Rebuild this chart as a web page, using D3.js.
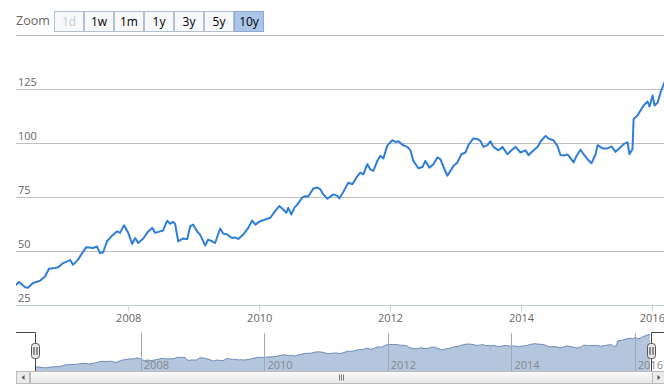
<!DOCTYPE html>
<html><head><meta charset="utf-8">
<script src="https://cdn.jsdelivr.net/npm/d3@7"></script>
<style>body{margin:0;background:#fff;overflow:hidden}svg{display:block}</style>
</head><body><svg id="c" width="664" height="384"></svg>
<script>
const dates=["2006-04-15","2006-05-02","2006-06-05","2006-06-21","2006-07-19","2006-08-27","2006-09-24","2006-10-16","2006-11-19","2006-12-06",
"2007-01-03","2007-02-11","2007-02-27","2007-03-27","2007-04-19","2007-05-11","2007-06-19","2007-07-11","2007-07-28","2007-08-14","2007-09-05","2007-10-03","2007-10-31","2007-11-17","2007-12-09",
"2008-01-01","2008-01-23","2008-02-09","2008-02-26","2008-03-25","2008-04-21","2008-05-14","2008-05-31","2008-06-27","2008-07-14","2008-08-05","2008-08-22","2008-09-08","2008-09-19","2008-10-06","2008-11-03","2008-11-25","2008-12-12","2008-12-29",
"2009-01-20","2009-02-05","2009-03-06","2009-03-22","2009-04-14","2009-04-30","2009-05-28","2009-06-14","2009-07-07","2009-08-03","2009-08-20","2009-09-06","2009-10-04","2009-11-01","2009-11-23","2009-12-10",
"2010-01-07","2010-02-04","2010-03-04","2010-03-31","2010-04-23","2010-05-15","2010-06-01","2010-06-12","2010-06-29","2010-07-16","2010-08-01","2010-08-29","2010-09-15","2010-10-02","2010-10-30","2010-11-21","2010-12-08","2010-12-25",
"2011-01-16","2011-02-02","2011-02-19","2011-03-13","2011-03-24","2011-04-15","2011-05-13","2011-06-05","2011-07-03","2011-07-19","2011-08-05","2011-08-27","2011-09-13","2011-09-30","2011-10-22","2011-11-08","2011-11-25","2011-12-17",
"2012-01-14","2012-01-31","2012-02-17","2012-03-15","2012-04-07","2012-04-24","2012-05-10","2012-06-07","2012-06-30","2012-07-16","2012-08-08","2012-08-30","2012-09-21","2012-10-08","2012-10-25","2012-11-16","2012-12-03","2012-12-20",
"2013-01-11","2013-02-02","2013-02-25","2013-03-13","2013-04-10","2013-05-03","2013-05-19","2013-06-05","2013-06-28","2013-07-14","2013-07-31","2013-08-28","2013-09-19","2013-10-17","2013-11-09","2013-12-01","2013-12-29",
"2014-01-26","2014-02-12","2014-03-12","2014-04-03","2014-04-20","2014-05-18","2014-06-03","2014-07-01","2014-07-24","2014-08-09","2014-08-26","2014-09-17","2014-09-29","2014-10-21","2014-11-07","2014-11-29","2014-12-16",
"2015-01-07","2015-01-29","2015-02-21","2015-03-04","2015-04-01","2015-04-29","2015-05-21","2015-06-12","2015-07-10","2015-07-27","2015-08-18","2015-08-29","2015-09-15","2015-09-21","2015-10-13","2015-10-24","2015-11-16","2015-12-08","2015-12-19",
"2016-01-05","2016-01-16","2016-02-02","2016-02-19","2016-03-12","2016-03-31"];
const values=[34.3,35.6,33.2,33.0,35.2,36.2,38.2,41.8,42.1,42.5,
44.4,45.8,43.6,46.0,49.0,51.7,51.4,52.1,49.0,49.3,54.5,57.1,59.1,58.4,61.9,
58.5,53.3,56.0,53.7,55.8,59.0,60.7,58.4,59.1,59.5,64.0,62.6,63.5,62.5,54.5,55.8,55.5,61.5,62.2,
59.0,57.6,52.5,55.3,54.5,53.7,60.4,58.1,57.6,56.0,56.3,55.6,57.6,60.7,64.1,62.2,
63.8,64.6,65.4,68.5,70.8,69.2,67.7,70.0,66.9,70.0,71.5,74.7,75.4,75.2,78.9,79.4,78.5,76.2,
74.2,75.2,76.2,75.5,74.3,77.3,81.6,80.9,84.7,86.3,85.5,90.2,87.8,87.1,91.7,94.1,92.8,98.9,
101.3,100.5,100.8,98.9,98.2,96.6,91.7,88.3,88.9,91.7,88.6,90.2,93.3,92.5,89.0,84.9,87.1,89.4,
91.0,94.8,95.6,99.0,102.1,101.8,101.0,98.2,99.0,100.8,98.2,96.6,98.2,94.8,96.6,98.2,95.6,
96.6,94.4,96.6,98.2,100.7,103.3,102.1,101.3,98.5,94.4,94.2,94.7,93.6,91.0,94.1,96.9,94.8,
92.5,90.6,94.8,99.0,97.5,97.5,98.4,95.9,98.0,99.5,100.3,94.8,97.2,111.1,112.7,114.3,117.4,119.2,116.9,
122.0,117.4,118.6,123.6,128.2,130.0];
const yGridValues=[25,50,75,100,125,150];
const yLabelValues=[25,50,75,100,125];
const xTickYears=[2008,2010,2012,2014,2016];
const zoomButtons=["1d","1w","1m","1y","3y","5y","10y"];
const selectedButton="10y";
const disabledButton="1d";

const parse=d3.timeParse("%Y-%m-%d");
const data=dates.map((d,i)=>({date:parse(d),value:values[i]}));
const FONT='"Open Sans", "Liberation Sans", sans-serif';
const svg=d3.select("#c").style("font-family",FONT);

// scales
const x=d3.scaleTime().domain(d3.extent(data,d=>d.date)).range([16,668]);
const y=d3.scaleLinear().domain([25,150]).range([305,35]);
const xn=d3.scaleTime().domain(d3.extent(data,d=>d.date)).range([35,650]);
const yn=d3.scaleLinear().domain([25,130]).range([370.5,334.5]);
const tickDates=xTickYears.map(yr=>new Date(yr,0,1));

// zoom selector
svg.append("text").attr("x",16).attr("y",25).attr("fill","#666").style("font-size","12.5px").text("Zoom");
const bg=svg.append("g").selectAll("g").data(zoomButtons).join("g")
  .attr("transform",(d,i)=>`translate(${54+i*30+0.5},11.5)`);
bg.append("rect").attr("width",29).attr("height",20)
  .attr("fill",d=>d===selectedButton?"#abc5e8":"#f6f8fb")
  .attr("stroke",d=>d===selectedButton?"#8fa9cc":"#b4c0cf");
bg.append("text").attr("x",14.5).attr("y",14.5).attr("text-anchor","middle")
  .style("font-size","12px")
  .attr("fill",d=>d===disabledButton?"#cccccc":"#000").text(d=>d);

// gridlines
svg.append("g").selectAll("line").data(yGridValues.filter(v=>v!==25)).join("line")
  .attr("x1",16).attr("x2",664).attr("y1",d=>Math.round(y(d))+0.5).attr("y2",d=>Math.round(y(d))+0.5)
  .attr("stroke","#c0c0c0").attr("stroke-width",1);
// axis line
svg.append("line").attr("x1",16).attr("x2",664).attr("y1",Math.round(y(25))+0.5).attr("y2",Math.round(y(25))+0.5)
  .attr("stroke","#c0d0e0");
// y labels
svg.append("g").selectAll("text").data(yLabelValues).join("text")
  .attr("x",18).attr("y",d=>y(d)-3).attr("fill","#666").style("font-size","11px").text(d=>d);

// x axis
const xAxis=d3.axisBottom(x).tickValues(tickDates).tickFormat(d3.timeFormat("%Y")).tickSize(6).tickPadding(3);
const xg=svg.append("g").attr("transform",`translate(0,${Math.round(y(25))+0.5})`).call(xAxis);
xg.select(".domain").remove();
xg.selectAll(".tick line").attr("stroke","#c0d0e0");
xg.selectAll(".tick text").attr("fill","#666").style("font-size","11px").style("font-family",FONT);

// main line
svg.append("defs").append("clipPath").attr("id","clipMain").append("rect").attr("x",16).attr("y",0).attr("width",648).attr("height",320);
svg.append("path").datum(data).attr("clip-path","url(#clipMain)")
  .attr("d",d3.line().x(d=>x(d.date)).y(d=>y(d.value)))
  .attr("fill","none").attr("stroke","#2f7ed8").attr("stroke-width",2).attr("stroke-linejoin","round");

// navigator
const navTop=333, navBottom=371;
svg.append("path").datum(data)
  .attr("d",d3.area().x(d=>xn(d.date)).y0(navBottom).y1(d=>yn(d.value)))
  .attr("fill","#b3c6de");
svg.append("path").datum(data)
  .attr("d",d3.line().x(d=>xn(d.date)).y(d=>yn(d.value)))
  .attr("fill","none").attr("stroke","#6d8cb3").attr("stroke-width",1);
// nav grid
svg.append("g").selectAll("line").data(tickDates).join("line")
  .attr("x1",d=>Math.round(xn(d))+0.5).attr("x2",d=>Math.round(xn(d))+0.5)
  .attr("y1",navTop).attr("y2",navBottom).attr("stroke","#a0a8b4").attr("stroke-width",1);
svg.append("g").selectAll("text").data(tickDates).join("text")
  .attr("x",d=>xn(d)+3).attr("y",369).attr("fill","#888").style("font-size","11px")
  .text(d3.timeFormat("%Y"));
// outline
const hL=35.5, hR=651.5;
svg.append("path").attr("d",`M16,${navTop-0.5}H${hL}V${navBottom}M664,${navTop-0.5}H${hR}V${navBottom}`)
  .attr("fill","none").attr("stroke","#444").attr("stroke-width",1);

// scrollbar
const sbY=371.5, sbH=12;
svg.append("rect").attr("x",16.5).attr("y",sbY).attr("width",660).attr("height",sbH).attr("fill","#f2f2f2").attr("stroke","#ddd");
const grad=svg.select("defs").append("linearGradient").attr("id","bar").attr("x1",0).attr("y1",0).attr("x2",0).attr("y2",1);
grad.append("stop").attr("offset",0).attr("stop-color","#fbfbfb");
grad.append("stop").attr("offset",1).attr("stop-color","#e6e6e6");
svg.append("rect").attr("x",30.5).attr("y",sbY).attr("width",622).attr("height",sbH).attr("fill","url(#bar)").attr("stroke","#bbb");
[16.5,652.5].forEach((bx,i)=>{
  svg.append("rect").attr("x",bx).attr("y",sbY).attr("width",13).attr("height",sbH).attr("fill","#ebebeb").attr("stroke","#bbb");
  const cx=bx+6.5, cy=sbY+6;
  svg.append("path").attr("d",i===0?`M${cx+1.5},${cy-2.5}L${cx-1.5},${cy}L${cx+1.5},${cy+2.5}Z`:`M${cx-1.5},${cy-2.5}L${cx+1.5},${cy}L${cx-1.5},${cy+2.5}Z`).attr("fill","#555");
});
[-2,0,2].forEach(o=>{
  svg.append("line").attr("x1",341.5+o).attr("x2",341.5+o).attr("y1",sbY+3).attr("y2",sbY+9).attr("stroke","#777");
});

// handles
[hL,hR].forEach(hx=>{
  svg.append("rect").attr("x",hx-4).attr("y",343.5).attr("width",8).attr("height",15).attr("rx",3)
    .attr("fill","#ebe7e8").attr("stroke","#555");
  [-1.5,1.5].forEach(o=>svg.append("line").attr("x1",hx+o).attr("x2",hx+o).attr("y1",347).attr("y2",355).attr("stroke","#333"));
});
</script></body></html>
